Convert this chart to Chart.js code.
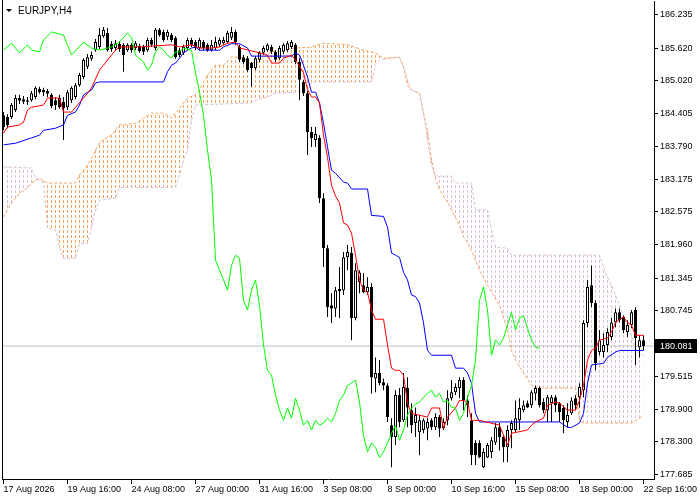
<!DOCTYPE html>
<html>
<head>
<meta charset="utf-8">
<script src="https://cdn.jsdelivr.net/npm/chart.js@4.4.1/dist/chart.umd.min.js"></script>
<style>
  html, body { margin: 0; padding: 0; background: #fff; }
  #chart { display: block; }
</style>
</head>
<body>
<canvas id="chart" width="700" height="500"></canvas>
<script>
// EURJPY H4 - bar 0 = 17 Aug 2026 00:00, one bar every 4 hours
const open = [
  184.37,184.34,184.34,184.47,184.69,184.67,184.65,184.65,184.71,184.86,
  184.84,184.82,184.75,184.65,184.69,184.62,184.52,184.65,184.71,184.93,
  185.08,185.27,185.42,185.58,185.64,185.84,185.90,185.70,185.62,185.70,
  185.68,185.58,185.68,185.62,185.66,185.64,185.58,185.77,185.62,185.96,
  185.92,185.83,185.86,185.81,185.58,185.53,185.62,185.77,185.73,185.62,
  185.73,185.68,185.58,185.62,185.68,185.71,185.73,185.81,185.92,185.64,
  185.45,185.43,185.34,185.25,185.40,185.53,185.58,185.64,185.55,185.43,
  185.55,185.58,185.64,185.68,185.36,184.99,184.78,184.06,183.91,183.95,
  182.83,181.90,180.84,180.78,181.14,181.12,181.73,181.81,180.60,181.27,
  181.21,181.08,181.18,179.48,179.58,179.41,179.35,178.61,178.39,179.17,
  178.70,179.30,178.89,178.65,178.48,178.52,178.55,178.70,178.57,178.76,
  178.55,178.70,179.11,179.22,179.30,179.45,179.07,178.70,178.28,178.28,
  177.83,178.01,178.11,178.29,178.57,178.39,178.20,178.52,178.52,178.70,
  178.89,179.02,178.98,179.20,179.30,179.04,178.89,179.02,179.13,179.02,
  178.93,178.67,178.83,179.11,179.13,179.26,180.51,181.21,180.88,179.97,
  179.97,180.10,180.25,180.52,180.71,180.62,180.34,180.47,180.75,180.06,
  180.19
];
const high = [
  184.43,184.39,184.60,184.75,184.75,184.73,184.71,184.82,184.91,184.90,
  184.88,184.86,184.78,184.71,184.75,184.71,184.84,184.91,184.97,185.16,
  185.43,185.51,185.55,185.79,185.99,186.01,185.99,185.75,185.77,185.75,
  185.71,185.71,185.71,185.75,185.70,185.68,185.81,185.81,185.99,185.99,
  185.96,185.96,185.90,185.84,185.62,185.68,185.81,185.81,185.77,185.81,
  185.77,185.71,185.77,185.83,185.81,185.83,185.94,186.01,185.96,185.68,
  185.49,185.47,185.36,185.47,185.56,185.66,185.71,185.68,185.58,185.66,
  185.71,185.75,185.77,185.71,185.43,185.03,184.82,184.15,184.15,184.00,
  182.92,181.96,181.06,181.18,181.55,181.83,181.96,181.92,181.62,181.49,
  181.44,181.36,181.25,179.87,179.82,179.48,179.39,178.74,179.26,179.30,
  179.58,179.50,179.02,178.94,178.80,178.74,178.74,178.74,178.83,178.80,
  178.74,179.26,179.45,179.39,179.50,179.50,179.17,178.83,178.33,178.33,
  178.18,178.28,178.39,178.65,178.65,178.42,178.61,178.70,179.07,179.11,
  179.07,179.07,179.26,179.35,179.33,179.11,179.17,179.17,179.17,179.04,
  178.98,179.02,179.13,179.17,179.39,180.56,181.31,181.58,180.93,180.38,
  180.32,180.41,180.60,180.78,180.78,180.65,180.56,180.75,180.80,180.28,
  180.28
];
const low = [
  184.09,184.13,184.30,184.43,184.58,184.58,184.56,184.62,184.67,184.77,
  184.73,184.71,184.50,184.47,184.49,183.91,184.47,184.60,184.67,184.90,
  185.04,185.23,185.38,185.55,185.60,185.81,185.55,185.55,185.58,185.55,
  185.18,185.55,185.53,185.58,185.53,185.49,185.55,185.64,185.58,185.83,
  185.73,185.77,185.73,185.42,185.45,185.49,185.58,185.64,185.58,185.58,
  185.58,185.55,185.55,185.58,185.64,185.68,185.70,185.77,185.68,185.36,
  185.32,185.18,184.90,185.21,185.36,185.49,185.55,185.51,185.36,185.40,
  185.51,185.55,185.60,185.32,184.65,184.73,183.63,183.78,183.78,182.74,
  181.55,180.62,180.51,180.62,180.60,181.03,181.49,180.19,180.56,181.06,
  181.06,181.03,179.20,179.22,179.35,179.26,178.67,177.83,178.24,178.57,
  178.67,178.57,178.46,178.39,178.05,178.46,178.33,178.52,178.52,178.39,
  178.52,178.61,179.07,179.17,179.11,178.89,178.76,177.87,177.87,178.00,
  177.81,178.00,178.00,178.24,178.14,177.92,177.92,178.18,178.48,178.52,
  178.85,178.93,178.93,179.07,178.94,178.83,178.67,178.67,178.85,178.67,
  178.46,178.57,178.80,178.89,178.94,179.13,180.43,180.80,179.63,179.91,
  179.87,179.97,180.19,180.43,180.52,180.32,180.25,180.41,179.73,179.87,
  180.00
];
const close = [
  184.15,184.19,184.56,184.69,184.64,184.62,184.62,184.78,184.88,184.80,
  184.80,184.77,184.54,184.56,184.52,184.50,184.80,184.88,184.93,185.12,
  185.40,185.45,185.49,185.73,185.86,185.96,185.58,185.60,185.71,185.60,
  185.49,185.68,185.58,185.71,185.56,185.55,185.77,185.68,185.96,185.86,
  185.77,185.92,185.77,185.45,185.49,185.64,185.77,185.68,185.62,185.77,
  185.62,185.58,185.68,185.73,185.77,185.77,185.90,185.92,185.73,185.40,
  185.36,185.21,185.25,185.43,185.53,185.62,185.68,185.55,185.40,185.62,
  185.68,185.71,185.73,185.36,185.03,184.78,184.06,183.95,184.02,182.83,
  181.90,180.80,180.78,181.12,181.10,181.73,181.83,180.60,181.49,181.45,
  181.08,181.18,179.50,179.58,179.39,179.35,178.76,178.39,179.17,178.67,
  179.32,178.94,178.61,178.80,178.70,178.70,178.67,178.57,178.76,178.55,
  178.67,179.11,179.22,179.32,179.45,179.07,178.98,178.05,178.05,178.01,
  178.11,178.24,178.33,178.57,178.39,178.20,178.52,178.65,178.74,178.93,
  178.98,178.94,179.22,179.30,178.98,178.89,179.13,179.13,178.98,178.85,
  178.70,178.80,179.07,178.98,179.32,180.51,181.18,180.88,179.76,180.19,
  180.10,180.34,180.52,180.71,180.56,180.38,180.47,180.71,180.23,180.19,
  180.08
];

// Ichimoku lines, [bar, price] where the line turns
const tenkan = [
  [0,184.04],[1,184.15],[4,184.19],[5,184.24],[6,184.47],[7,184.52],[10,184.56],[11,184.69],[14,184.69],
  [15,184.43],[17,184.43],[18,184.52],[20,184.69],[21,184.78],[22,184.88],[24,185.21],[25,185.30],
  [27,185.49],[28,185.58],[29,185.64],[34,185.64],[42,185.68],[44,185.64],[47,185.68],[49,185.62],
  [52,185.62],[54,185.64],[56,185.71],[58,185.73],[59,185.62],[63,185.55],[66,185.49],[67,185.34],
  [69,185.34],[70,185.43],[72,185.49],[73,185.40],[75,185.16],[76,184.85],[77,184.71],[78,184.71],
  [79,184.60],[80,184.00],[81,183.59],[82,183.07],[83,182.87],[84,182.74],[85,182.37],[86,182.33],
  [87,182.18],[88,181.77],[89,181.31],[90,181.12],[91,181.08],[92,180.75],[93,180.58],[95,180.58],
  [96,180.10],[97,179.67],[98,179.63],[99,179.63],[100,179.54],[101,179.02],[102,178.83],[106,178.76],
  [107,178.93],[109,178.93],[110,178.55],[111,178.76],[113,178.93],[114,179.07],[115,179.07],
  [116,179.04],[117,178.70],[119,178.70],[124,178.61],[126,178.24],[127,178.46],[131,178.52],
  [132,178.61],[133,178.67],[135,178.74],[136,178.98],[138,179.04],[139,179.02],[141,178.89],
  [143,178.89],[144,179.07],[145,179.35],[146,179.82],[147,180.00],[148,180.04],[149,180.19],
  [151,180.23],[152,180.34],[153,180.52],[155,180.62],[156,180.52],[157,180.47],[158,180.28],[160,180.28]
];
const kijun = [
  [0,183.82],[3,183.85],[7,183.95],[9,184.00],[10,184.09],[13,184.13],[15,184.19],[16,184.37],
  [18,184.43],[19,184.56],[20,184.75],[22,184.84],[23,184.97],[24,184.99],[40,184.99],[41,185.18],
  [42,185.30],[43,185.34],[44,185.43],[45,185.53],[46,185.58],[47,185.62],[48,185.64],[49,185.58],
  [54,185.58],[55,185.64],[57,185.70],[59,185.70],[61,185.62],[62,185.47],[72,185.47],[73,185.53],
  [74,185.49],[75,185.30],[76,185.08],[77,184.80],[78,184.80],[79,184.60],[80,184.22],[81,183.78],
  [82,183.35],[83,183.29],[85,183.13],[86,183.11],[87,183.00],[91,183.00],[92,182.51],[95,182.49],
  [96,182.29],[97,181.81],[98,181.77],[99,181.73],[100,181.45],[101,181.31],[102,181.03],[103,181.00],
  [104,180.88],[105,180.51],[106,180.00],[107,179.91],[112,179.91],[113,179.67],[115,179.67],
  [116,179.58],[117,179.39],[118,178.83],[119,178.67],[139,178.67],[141,178.57],[142,178.57],
  [144,178.65],[145,178.83],[146,179.39],[147,179.73],[150,179.76],[151,179.87],[153,179.97],
  [154,180.00],[160,180.00]
];
const chikou = [
  [0,185.58],[2,185.71],[4,185.53],[6,185.68],[7,185.58],[9,185.55],[10,185.77],[12,185.92],
  [15,185.86],[17,185.49],[20,185.73],[22,185.62],[24,185.58],[27,185.64],[29,185.73],[31,185.90],
  [32,185.81],[33,185.49],[35,185.36],[36,185.21],[37,185.30],[38,185.55],[39,185.64],[40,185.58],
  [41,185.49],[42,185.43],[43,185.55],[44,185.55],[45,185.62],[47,185.58],[48,185.16],[49,184.80],
  [50,184.37],[51,183.72],[52,183.17],[53,181.68],[54,181.49],[55,181.31],[56,181.12],[57,181.58],
  [58,181.77],[59,181.71],[60,180.93],[61,180.75],[62,181.12],[63,181.31],[64,180.84],[65,180.10],
  [66,179.63],[67,179.54],[68,179.17],[69,178.89],[70,178.70],[71,178.93],[72,178.74],[73,179.11],
  [74,178.89],[75,178.61],[76,178.70],[77,178.52],[78,178.70],[79,178.61],[80,178.65],[81,178.74],
  [82,178.67],[83,178.83],[84,179.07],[85,179.17],[86,179.35],[87,179.39],[88,179.45],[89,179.04],
  [90,178.42],[91,178.11],[92,178.28],[93,178.20],[94,178.01],[95,178.11],[96,178.28],[97,178.46],
  [98,178.61],[99,178.33],[100,178.52],[101,178.80],[102,178.93],[103,179.00],[104,179.04],
  [105,179.13],[106,179.20],[107,179.26],[108,179.13],[109,179.20],[110,179.04],[111,179.07],
  [112,178.94],[113,178.93],[114,178.70],[115,178.83],[116,179.13],[117,179.35],[118,179.82],
  [119,180.93],[120,181.18],[121,180.75],[122,179.91],[123,180.19],[124,180.10],[125,180.23],
  [126,180.47],[127,180.71],[128,180.38],[129,180.60],[130,180.65],[131,180.41],[132,180.19],
  [133,180.06],[134,180.04]
];
const spanA = [
  [0,182.48],[2,182.74],[3,182.83],[4,182.92],[6,183.02],[7,183.11],[9,183.20],[11,183.11],[18,183.11],
  [19,183.26],[21,183.44],[22,183.57],[24,183.87],[27,184.00],[29,184.19],[33,184.22],[37,184.41],
  [40,184.41],[42,184.32],[44,184.50],[45,184.60],[46,184.69],[48,184.75],[49,184.84],[50,184.99],
  [51,185.12],[53,185.30],[55,185.30],[57,185.45],[60,185.45],[61,185.34],[64,185.36],[65,185.45],
  [67,185.55],[73,185.62],[77,185.64],[80,185.71],[86,185.68],[90,185.58],[93,185.53],[95,185.43],
  [99,185.45],[100,185.27],[101,184.93],[102,184.84],[104,184.78],[105,184.41],[106,184.09],
  [107,183.54],[108,183.20],[109,182.98],[111,182.76],[112,182.61],[114,182.33],[115,182.11],
  [116,182.01],[117,181.86],[119,181.49],[121,181.21],[124,180.84],[126,180.38],[127,180.00],
  [128,179.82],[130,179.58],[132,179.35],[134,179.30],[143,179.30],[144,178.70],[145,178.65],
  [157,178.65],[159,178.74],[160,178.80]
];
const spanB = [
  [0,183.41],[7,183.39],[8,183.22],[10,183.11],[11,182.27],[13,182.24],[14,181.92],[15,181.71],
  [18,181.71],[19,181.99],[21,181.99],[22,182.29],[23,182.61],[24,182.79],[28,182.83],[29,183.03],
  [43,183.03],[44,183.26],[45,183.54],[46,183.72],[47,184.28],[48,184.56],[62,184.60],[63,184.65],
  [66,184.71],[68,184.78],[73,184.80],[76,184.84],[77,184.99],[92,184.99],[93,185.30],[94,185.40],
  [99,185.45],[100,185.27],[101,185.03],[102,184.84],[104,184.78],[105,184.41],[106,183.91],
  [107,183.44],[108,183.24],[112,183.24],[113,183.11],[117,183.11],[118,182.61],[121,182.61],
  [122,182.24],[123,181.92],[126,181.90],[127,181.77],[149,181.77],[150,181.55],[151,181.36],
  [152,181.21],[153,181.03],[154,180.84],[155,180.65],[156,180.47],[157,180.28],[158,180.00],
  [160,179.91]
];

const priceTicks = [186.235, 185.620, 185.020, 184.405, 183.790, 183.175, 182.575, 181.960,
  181.345, 180.745, 180.130, 179.515, 178.900, 178.300, 177.685];
const timeTicks = [0, 16, 32, 48, 64, 80, 96, 112, 128, 144, 160];
const timeLabels = ['17 Aug 2026', '19 Aug 16:00', '24 Aug 08:00', '27 Aug 00:00', '31 Aug 16:00',
  '3 Sep 08:00', '8 Sep 00:00', '10 Sep 16:00', '15 Sep 08:00', '18 Sep 00:00', '22 Sep 16:00'];
const lastPrice = 180.081;

const FONT = '"Liberation Sans", Arial, sans-serif';

function hatch(color) {
  const c = document.createElement('canvas');
  c.width = 4; c.height = 5;
  const g = c.getContext('2d');
  g.fillStyle = color;
  g.fillRect(3, 0, 1, 3);
  return g.createPattern(c, 'repeat');
}

const pts = arr => arr.map(p => ({ x: p[0], y: p[1] }));
const bars = close.map((c, i) => i);

const overlay = {
  id: 'overlay',
  beforeDraw(chart) {
    const { ctx, chartArea } = chart;
    ctx.save();
    ctx.fillStyle = '#fff';
    ctx.fillRect(0, 0, chart.width, chart.height);
    ctx.restore();
  },
  afterDraw(chart) {
    const { ctx, chartArea } = chart;
    ctx.save();
    // left frame
    ctx.strokeStyle = '#000';
    ctx.lineWidth = 1;
    ctx.beginPath();
    ctx.moveTo(chartArea.left + 0.5, 0);
    ctx.lineTo(chartArea.left + 0.5, chartArea.bottom);
    ctx.stroke();
    // symbol
    ctx.fillStyle = '#000';
    ctx.beginPath();
    ctx.moveTo(6, 9); ctx.lineTo(12, 9); ctx.lineTo(9, 12); ctx.closePath();
    ctx.fill();
    ctx.font = '10px ' + FONT;
    ctx.textBaseline = 'middle';
    ctx.fillText('EURJPY,H4', 18, 11);
    // last price tag
    const y = Math.round(chart.scales.y.getPixelForValue(lastPrice));
    ctx.fillStyle = '#000';
    ctx.fillRect(chartArea.right + 1, y - 7, 42, 14);
    ctx.fillStyle = '#fff';
    ctx.font = '9px ' + FONT;
    ctx.fillText(lastPrice.toFixed(3), chartArea.right + 6, y + 0.5);
    ctx.restore();
  }
};

new Chart(document.getElementById('chart'), {
  type: 'bar',
  data: {
    datasets: [
      {
        type: 'line', order: 20,
        data: [{ x: -0.375, y: lastPrice }, { x: 162.625, y: lastPrice }],
        borderColor: '#c0c0c0', borderWidth: 1, pointRadius: 0
      },
      {
        type: 'line', order: 12,
        data: pts(spanA),
        borderColor: '#F4A460', borderWidth: 1, borderDash: [3, 2], pointRadius: 0,
        fill: { target: '+1', above: hatch('#F4A460'), below: hatch('#D8BFD8') }
      },
      {
        type: 'line', order: 11,
        data: pts(spanB),
        borderColor: '#D8BFD8', borderWidth: 1, borderDash: [3, 2], pointRadius: 0
      },
      {
        order: 6, grouped: false, barThickness: 1, inflateAmount: 0,
        data: bars.map(i => ({ x: i, y: [low[i], high[i]] })),
        backgroundColor: '#000', borderWidth: 0
      },
      {
        order: 5, grouped: false, barThickness: 3, inflateAmount: 0, minBarLength: 1,
        data: bars.map(i => ({ x: i, y: [open[i], close[i]] })),
        backgroundColor: ctx => close[ctx.dataIndex] >= open[ctx.dataIndex] ? '#fff' : '#000',
        borderColor: '#000', borderWidth: 1, borderSkipped: false
      },
      {
        type: 'line', order: 3,
        data: pts(kijun),
        borderColor: '#0000FF', borderWidth: 1, pointRadius: 0
      },
      {
        type: 'line', order: 2,
        data: pts(tenkan),
        borderColor: '#FF0000', borderWidth: 1, pointRadius: 0
      },
      {
        type: 'line', order: 1,
        data: pts(chikou),
        borderColor: '#00FF00', borderWidth: 1, pointRadius: 0
      }
    ]
  },
  options: {
    responsive: false,
    animation: false,
    events: [],
    layout: { padding: { left: 2, top: 1, right: 0, bottom: 0 } },
    plugins: { legend: { display: false }, tooltip: { enabled: false } },
    scales: {
      x: {
        type: 'linear', offset: false, min: -0.375, max: 162.625,
        grid: { offset: false, drawOnChartArea: false, drawTicks: true, tickLength: 5, color: '#000' },
        border: { display: true, color: '#000' },
        ticks: {
          autoSkip: false, maxRotation: 0, align: 'start', padding: 0,
          color: '#000', font: { family: FONT, size: 9 },
          callback: v => timeLabels[timeTicks.indexOf(v)]
        },
        afterBuildTicks: s => { s.ticks = timeTicks.map(v => ({ value: v })); },
        afterFit: s => { s.height = 21; s.paddingLeft = 0; s.paddingRight = 0; }
      },
      y: {
        position: 'right', min: 177.610, max: 186.494,
        grid: { drawOnChartArea: false, drawTicks: true, tickLength: 4, color: '#000' },
        border: { display: true, color: '#000' },
        ticks: {
          padding: 2, color: '#000', font: { family: FONT, size: 9 },
          callback: v => Number(v).toFixed(3)
        },
        afterBuildTicks: s => { s.ticks = priceTicks.map(v => ({ value: v })); },
        afterFit: s => { s.width = 46; s.paddingTop = 0; s.paddingBottom = 0; }
      }
    }
  },
  plugins: [overlay]
});
</script>
</body>
</html>
